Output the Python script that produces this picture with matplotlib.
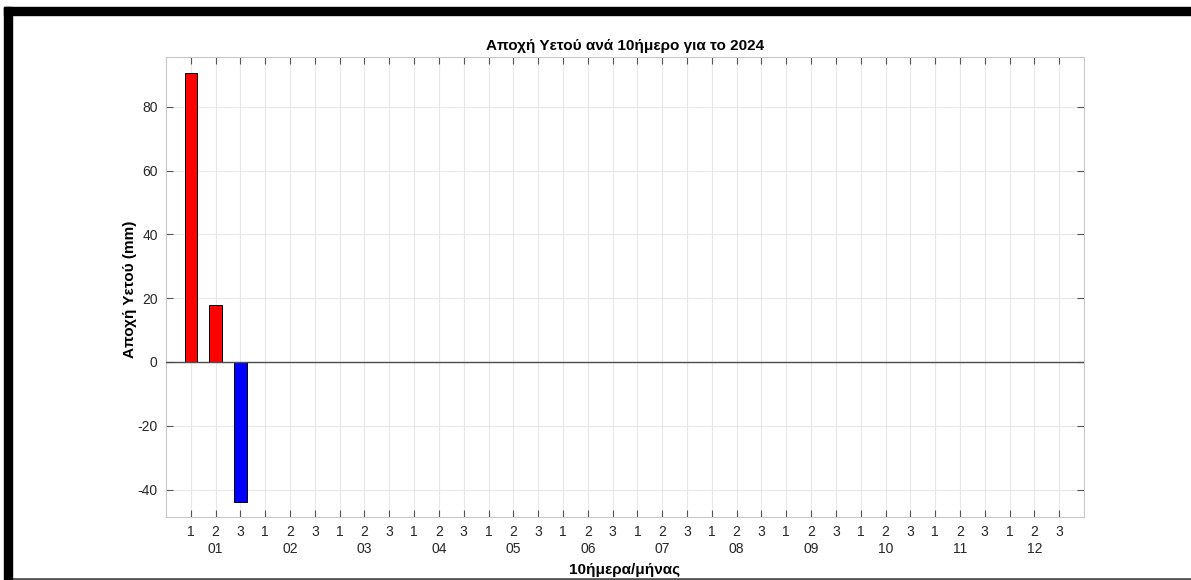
import numpy as np
import matplotlib
matplotlib.use('Agg')
import matplotlib.pyplot as plt
from matplotlib.patches import Rectangle
from matplotlib.lines import Line2D
from matplotlib.transforms import blended_transform_factory

# dekad rain anomaly (mm), only the first three dekads are available
dekad_values = [90.5, 18.0, -44.0]
dekad_labels = ['1', '2', '3'] * 12
month_labels = ['01', '02', '03', '04', '05', '06', '07', '08', '09', '10', '11', '12']
y_ticks = [-40, -20, 0, 20, 40, 60, 80]

title = 'Αποχή Υετού ανά 10ήμερο για το 2024'
y_title = 'Αποχή Υετού (mm)'
x_title = '10ήμερα/μήνας'

plt.rcParams['font.family'] = ['Liberation Sans', 'DejaVu Sans']
txt_col = '#262626'

fig = plt.figure(figsize=(11.91, 5.80), dpi=100)
W, H = 1191, 580
ax = fig.add_axes([166 / W, 1 - 517 / H, 918 / W, 460 / H])

x = np.arange(1, len(dekad_values) + 1)
colors = ['#ff0000' if v >= 0 else '#0000ff' for v in dekad_values]
ax.bar(x, dekad_values, width=0.5, color=colors, edgecolor='black', linewidth=0.7, zorder=3)
ax.axhline(0, color='#4d4d4d', linewidth=1.0, zorder=4)

ax.set_xlim(0, 37)
ax.set_ylim(-48.6, 95.6)
ax.set_xticks(np.arange(1, 37))
ax.set_xticklabels(dekad_labels)
ax.set_yticks(y_ticks)
ax.set_yticklabels([str(t) for t in y_ticks])
ax.tick_params(direction='in', length=5, width=0.8, color='#555555', labelcolor=txt_col,
               labelsize=10, top=True, right=True, pad=6)
ax.grid(True, color='#e8e8e8', linewidth=0.8, zorder=0)
ax.set_axisbelow(True)
for s in ax.spines.values():
    s.set_color('#c8c8c8')
    s.set_linewidth(0.8)

# month labels under the middle dekad
trans = blended_transform_factory(ax.transData, fig.transFigure)
for i, m in enumerate(month_labels):
    ax.text(2 + 3 * i, 1 - 549 / H, m, transform=trans, ha='center', va='center',
            fontsize=10, color=txt_col, clip_on=False)

fig.text(625 / W, 1 - 46 / H, title, ha='center', va='center', fontsize=11,
         fontweight='bold', color='black')
fig.text(625 / W, 1 - 570 / H, x_title, ha='center', va='center', fontsize=11,
         fontweight='bold', color='black')
fig.text(130 / W, 1 - 289 / H, y_title, ha='center', va='center', rotation=90,
         fontsize=11, fontweight='bold', color='black')

# screenshot frame
fig.patches.append(Rectangle((4 / W, 1 - 15 / H), 1 - 4 / W, 8 / H, transform=fig.transFigure,
                             color='black', zorder=10))
fig.patches.append(Rectangle((4 / W, 0), 8 / W, 1 - 7 / H, transform=fig.transFigure,
                             color='black', zorder=10))
fig.lines.append(Line2D([12 / W, 1], [1.5 / H, 1.5 / H], transform=fig.transFigure,
                        color='#555555', linewidth=2))

fig.savefig('out.png', dpi=100)
